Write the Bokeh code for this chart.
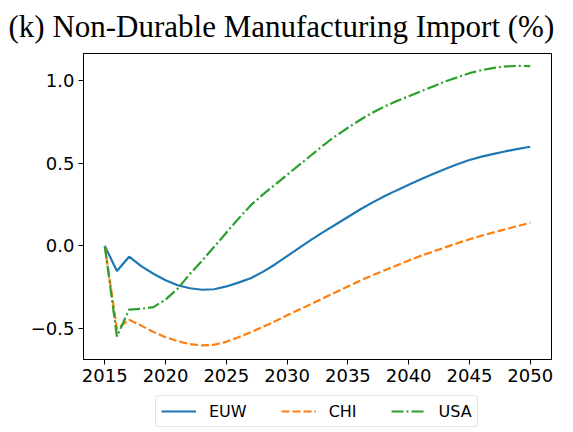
from bokeh.plotting import figure
from bokeh.models import Range1d, FixedTicker, Legend, LegendItem
from bokeh.layouts import column
from bokeh.embed import file_html
from bokeh.resources import INLINE

years = list(range(2015, 2051))
euw = [0.0, -0.152, -0.065, -0.122, -0.168, -0.208, -0.238, -0.256, -0.265, -0.262, -0.245,
       -0.222, -0.195, -0.157, -0.112, -0.062, -0.012, 0.038, 0.085, 0.13, 0.175,
       0.22, 0.262, 0.3, 0.336, 0.37, 0.403, 0.435, 0.465, 0.494, 0.52,
       0.54, 0.557, 0.573, 0.587, 0.6]
chi = [0.0, -0.502, -0.447, -0.482, -0.52, -0.552, -0.576, -0.594, -0.602, -0.598, -0.58,
       -0.552, -0.522, -0.49, -0.456, -0.42, -0.385, -0.35, -0.315, -0.28, -0.245,
       -0.21, -0.178, -0.148, -0.118, -0.088, -0.06, -0.034, -0.009, 0.016, 0.04,
       0.062, 0.082, 0.102, 0.121, 0.14]
usa = [0.0, -0.548, -0.385, -0.38, -0.37, -0.325, -0.258, -0.17, -0.09, -0.005, 0.08,
       0.165, 0.245, 0.31, 0.37, 0.43, 0.49, 0.55, 0.61, 0.665, 0.715,
       0.762, 0.805, 0.843, 0.876, 0.905, 0.935, 0.965, 0.995, 1.02, 1.045,
       1.063, 1.077, 1.086, 1.089, 1.088]
series_names = ["EUW", "CHI", "USA"]
x_ticks = [2015, 2020, 2025, 2030, 2035, 2040, 2045, 2050]
y_ticks = [-0.5, 0.0, 0.5, 1.0]
y_tick_labels = ["\u22120.5", "0.0", "0.5", "1.0"]
title_text = "(k) Non-Durable Manufacturing Import (%)"

colors = ["#1f77b4", "#ff7f0e", "#2ca02c"]
dashes = ["solid", "8 3", "12 3 2 3"]
series = [euw, chi, usa]

p = figure(width=573, height=392, output_backend="svg", toolbar_location=None,
           x_range=Range1d(2013.25, 2051.75), y_range=Range1d(-0.687, 1.164),
           min_border_left=83, min_border_right=22, min_border_top=53, min_border_bottom=33)
p.background_fill_color = "white"
p.border_fill_color = "white"
p.outline_line_color = "black"
p.outline_line_width = 1
p.xgrid.visible = False
p.ygrid.visible = False

p.title.text = title_text
p.title.text_font = "Liberation Serif"
p.title.text_font_size = "31px"
p.title.text_font_style = "normal"
p.title.text_color = "black"
p.title.align = "left"
p.title.offset = -75
p.title.vertical_align = "top"
p.title.standoff = 15

for ax in (p.xaxis[0], p.yaxis[0]):
    ax.axis_line_color = "black"
    ax.major_tick_line_color = "black"
    ax.major_tick_out = 5
    ax.major_tick_in = 0
    ax.minor_tick_line_color = None
    ax.major_label_text_font = "DejaVu Sans"
    ax.major_label_text_font_size = "18px"
    ax.major_label_text_color = "black"
    ax.major_label_standoff = 4

p.xaxis.ticker = FixedTicker(ticks=x_ticks)
p.yaxis.ticker = FixedTicker(ticks=y_ticks)
p.yaxis.major_label_overrides = {t: l for t, l in zip(y_ticks, y_tick_labels)}

for ys, c, d in zip(series, colors, dashes):
    p.line(years, ys, line_color=c, line_width=2.2, line_dash=d)

# legend strip below the chart (frames are aligned by the column layout)
lf = figure(width=573, height=38, output_backend="svg", toolbar_location=None,
            x_range=Range1d(0, 1), y_range=Range1d(0, 1),
            x_axis_type=None, y_axis_type=None, min_border=0)
lf.outline_line_color = None
lf.background_fill_color = "white"
lf.border_fill_color = "white"
lf.grid.visible = False
lrs = [lf.line(years, ys, line_color=c, line_width=2, line_dash=d)
       for ys, c, d in zip(series, colors, dashes)]

legend = Legend(items=[LegendItem(label=n, renderers=[r]) for n, r in zip(series_names, lrs)],
                orientation="horizontal", location=(72, 3))
legend.label_text_font = "DejaVu Sans"
legend.label_text_font_size = "16px"
legend.label_text_color = "black"
legend.glyph_width = 35
legend.glyph_height = 20
legend.label_standoff = 13
legend.spacing = 34
legend.padding = 5
legend.margin = 0
legend.border_line_color = "#cccccc"
legend.border_line_width = 1
legend.border_radius = 4
lf.add_layout(legend, "center")

layout = column(p, lf, spacing=0)
open("out.html", "w").write(file_html(layout, INLINE))
